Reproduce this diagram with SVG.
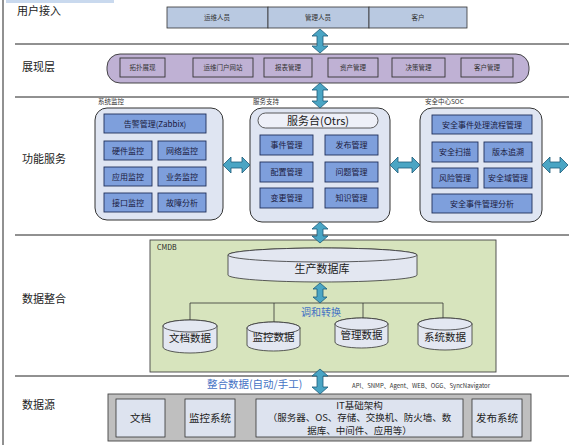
<svg xmlns="http://www.w3.org/2000/svg" width="569" height="445" viewBox="0 0 569 445">
<style>
text{font-family:"Noto Sans CJK SC","Liberation Sans",sans-serif;fill:#222;}
.lbl{font-size:11px;}
.sm{font-size:6.5px;text-anchor:middle;fill:#333;}
.md{font-size:8px;text-anchor:middle;fill:#1a1a40;}
.sep{stroke:#222;stroke-width:1;}
.arw{fill:#4aa5c4;stroke:#1d5b78;stroke-width:0.8;}
.top{fill:#b9c9e1;stroke:#333;stroke-width:0.8;}
.pur{fill:#bfb1d4;stroke:#333;stroke-width:0.9;}
.grp{fill:#dfe5f2;stroke:#333;stroke-width:1;}
.inb{fill:#7e9fdc;stroke:#1f2f5a;stroke-width:0.9;}
.cyl{fill:#e3e7f1;stroke:#333;stroke-width:0.8;}
.src{fill:#dde3ef;stroke:#333;stroke-width:0.8;}
.conn{stroke:#333;stroke-width:0.8;fill:none;}
</style>
<rect x="6" y="0" width="108" height="3" fill="#c9d9ee"/>
<line x1="3" y1="0" x2="3" y2="445" class="sep"/>
<g id="layers">
<line x1="15" y1="44" x2="569" y2="44" class="sep"/>
<line x1="15" y1="97" x2="569" y2="97" class="sep"/>
<line x1="15" y1="235" x2="569" y2="235" class="sep"/>
<line x1="15" y1="376" x2="569" y2="376" class="sep"/>
<text class="lbl" x="17" y="15">用户接入</text>
<text class="lbl" x="22" y="71">展现层</text>
<text class="lbl" x="22" y="163">功能服务</text>
<text class="lbl" x="22" y="303">数据整合</text>
<text class="lbl" x="22" y="409">数据源</text>
</g>
<g id="user-access">
<rect class="top" x="167" y="7" width="101" height="21"/>
<rect class="top" x="268" y="7" width="101" height="21"/>
<rect class="top" x="369" y="7" width="98" height="21"/>
<text class="sm" x="217" y="20">运维人员</text>
<text class="sm" x="318" y="20">管理人员</text>
<text class="sm" x="418" y="20">客户</text>
</g>
<g id="presentation">
<rect class="pur" x="107" y="54" width="422" height="29" rx="13"/>
<rect class="pur" x="120" y="58" width="45" height="19"/>
<rect class="pur" x="193" y="58" width="60" height="19"/>
<rect class="pur" x="264" y="58" width="48" height="19"/>
<rect class="pur" x="328" y="58" width="50" height="19"/>
<rect class="pur" x="392" y="58" width="53" height="19"/>
<rect class="pur" x="461" y="58" width="52" height="19"/>
<text class="sm" x="142.5" y="70">拓扑展现</text>
<text class="sm" x="223" y="70">运维门户网站</text>
<text class="sm" x="288" y="70">报表管理</text>
<text class="sm" x="353" y="70">资产管理</text>
<text class="sm" x="418.5" y="70">决策管理</text>
<text class="sm" x="487" y="70">客户管理</text>
</g>
<g id="sys-monitor">
<text x="98" y="104" style="font-size:6.5px;fill:#333">系统监控</text>
<rect class="grp" x="95" y="108" width="128" height="112" rx="12"/>
<rect class="inb" x="104" y="114" width="102" height="19"/>
<rect class="inb" x="104" y="141" width="48" height="19"/>
<rect class="inb" x="158" y="141" width="48" height="19"/>
<rect class="inb" x="104" y="167" width="48" height="19"/>
<rect class="inb" x="158" y="167" width="48" height="19"/>
<rect class="inb" x="104" y="193" width="48" height="19"/>
<rect class="inb" x="158" y="193" width="48" height="19"/>
<text class="md" x="155" y="126.5">告警管理(Zabbix)</text>
<text class="md" x="128" y="153.5">硬件监控</text>
<text class="md" x="182" y="153.5">网络监控</text>
<text class="md" x="128" y="179.5">应用监控</text>
<text class="md" x="182" y="179.5">业务监控</text>
<text class="md" x="128" y="205.5">接口监控</text>
<text class="md" x="182" y="205.5">故障分析</text>
</g>
<g id="service-support">
<text x="253" y="104" style="font-size:6.5px;fill:#333">服务支持</text>
<rect class="grp" x="250" y="108" width="140" height="114" rx="12"/>
<rect x="258" y="113" width="120" height="15" rx="7.5" fill="#eef0f8" stroke="#333" stroke-width="0.8"/>
<text x="318" y="124.5" style="font-size:11px;text-anchor:middle;fill:#222">服务台(Otrs)</text>
<rect class="inb" x="260" y="135" width="53" height="20"/>
<rect class="inb" x="325" y="135" width="53" height="20"/>
<rect class="inb" x="260" y="162" width="53" height="20"/>
<rect class="inb" x="325" y="162" width="53" height="20"/>
<rect class="inb" x="260" y="188" width="53" height="20"/>
<rect class="inb" x="325" y="188" width="53" height="20"/>
<text class="md" x="286.5" y="148">事件管理</text>
<text class="md" x="351.5" y="148">发布管理</text>
<text class="md" x="286.5" y="175">配置管理</text>
<text class="md" x="351.5" y="175">问题管理</text>
<text class="md" x="286.5" y="201">变更管理</text>
<text class="md" x="351.5" y="201">知识管理</text>
</g>
<g id="soc">
<text x="425" y="104" style="font-size:6.5px;fill:#333">安全中心SOC</text>
<rect class="grp" x="420" y="108" width="122" height="114" rx="12"/>
<rect class="inb" x="432" y="115" width="100" height="19"/>
<rect class="inb" x="432" y="142" width="46" height="20"/>
<rect class="inb" x="484" y="142" width="48" height="20"/>
<rect class="inb" x="432" y="168" width="46" height="20"/>
<rect class="inb" x="484" y="168" width="48" height="20"/>
<rect class="inb" x="432" y="194" width="100" height="19"/>
<text class="md" x="482" y="127.5">安全事件处理流程管理</text>
<text class="md" x="455" y="155">安全扫描</text>
<text class="md" x="508" y="155">版本追溯</text>
<text class="md" x="455" y="181">风险管理</text>
<text class="md" x="508" y="181">安全域管理</text>
<text class="md" x="482" y="206.5">安全事件管理分析</text>
</g>
<g id="cmdb">
<rect x="150" y="240" width="346" height="132" fill="#d7e4bd" stroke="#444" stroke-width="0.9"/>
<text x="157" y="250" style="font-size:7px;fill:#222">CMDB</text>
<path class="cyl" d="M228,255 a94.5,7 0 0 1 189,0 v20 a94.5,7 0 0 1 -189,0 Z"/>
<ellipse class="cyl" cx="322.5" cy="255" rx="94.5" ry="7"/>
<text x="322" y="273" style="font-size:11px;text-anchor:middle">生产数据库</text>
<path class="conn" d="M190,322 V303 H443 V322 M274,303 V324 M363,303 V320"/>
<text x="321" y="316" style="font-size:10px;text-anchor:middle;fill:#4472c4">调和转换</text>
<path class="cyl" d="M163,326 a27,6 0 0 1 54,0 v21 a27,6 0 0 1 -54,0 Z"/>
<ellipse class="cyl" cx="190" cy="326" rx="27" ry="6"/>
<text x="190" y="342" style="font-size:10.5px;text-anchor:middle">文档数据</text>
<path class="cyl" d="M247,328 a26.5,6 0 0 1 53,0 v17 a26.5,6 0 0 1 -53,0 Z"/>
<ellipse class="cyl" cx="273.5" cy="328" rx="26.5" ry="6"/>
<text x="273.5" y="341" style="font-size:10.5px;text-anchor:middle">监控数据</text>
<path class="cyl" d="M335,324 a26.5,6 0 0 1 53,0 v18 a26.5,6 0 0 1 -53,0 Z"/>
<ellipse class="cyl" cx="361.5" cy="324" rx="26.5" ry="6"/>
<text x="361.5" y="339" style="font-size:10.5px;text-anchor:middle">管理数据</text>
<path class="cyl" d="M418,324 a27,6 0 0 1 54,0 v20 a27,6 0 0 1 -54,0 Z"/>
<ellipse class="cyl" cx="445" cy="324" rx="27" ry="6"/>
<text x="445" y="341" style="font-size:10.5px;text-anchor:middle">系统数据</text>
</g>
<g id="data-source">
<text x="207" y="388" style="font-size:10.5px;fill:#4472c4">整合数据(自动/手工)</text>
<text x="352" y="388" style="font-size:6px;fill:#333">API、SNMP、Agent、WEB、OGG、SyncNavigator</text>
<rect x="108" y="394" width="423" height="47" fill="#bfbfbf" stroke="#444" stroke-width="0.9"/>
<rect class="src" x="116" y="399" width="49" height="38"/>
<rect class="src" x="185" y="399" width="50" height="38"/>
<rect class="src" x="256" y="399" width="207" height="38"/>
<rect class="src" x="472" y="399" width="50" height="38"/>
<text x="140.5" y="422" style="font-size:10.5px;text-anchor:middle">文档</text>
<text x="210" y="422" style="font-size:10.5px;text-anchor:middle">监控系统</text>
<text x="359.5" y="408.5" style="font-size:9.5px;text-anchor:middle">IT基础架构</text>
<text x="359.5" y="421" style="font-size:9.5px;text-anchor:middle">（服务器、OS、存储、交换机、防火墙、数</text>
<text x="359.5" y="433.5" style="font-size:9.5px;text-anchor:middle">据库、中间件、应用等）</text>
<text x="497" y="422" style="font-size:10.5px;text-anchor:middle">发布系统</text>
</g>
<g id="connectors">
<path class="arw" d="M320,29 L328,36 L323,36 L323,46 L328,46 L320,53 L312,46 L317,46 L317,36 L312,36 Z"/>
<path class="arw" d="M320,83 L328,90 L323,90 L323,101 L328,101 L320,108 L312,101 L317,101 L317,90 L312,90 Z"/>
<path class="arw" d="M223,165 L231,157 L231,162 L242,162 L242,157 L250,165 L242,173 L242,168 L231,168 L231,173 Z"/>
<path class="arw" d="M390,165 L398,157 L398,162 L412,162 L412,157 L420,165 L412,173 L412,168 L398,168 L398,173 Z"/>
<path class="arw" d="M542,165 L550,157 L550,162 L560,162 L560,157 L568,165 L560,173 L560,168 L550,168 L550,173 Z"/>
<path class="arw" d="M320,222 L328,229 L323,229 L323,236 L328,236 L320,243 L312,236 L317,236 L317,229 L312,229 Z"/>
<path class="arw" d="M320,283 L327,289 L323,289 L323,297 L327,297 L320,303 L313,297 L317,297 L317,289 L313,289 Z"/>
<path class="arw" d="M320,369 L328,376 L323,376 L323,387 L328,387 L320,394 L312,387 L317,387 L317,376 L312,376 Z"/>
</g>
</svg>
